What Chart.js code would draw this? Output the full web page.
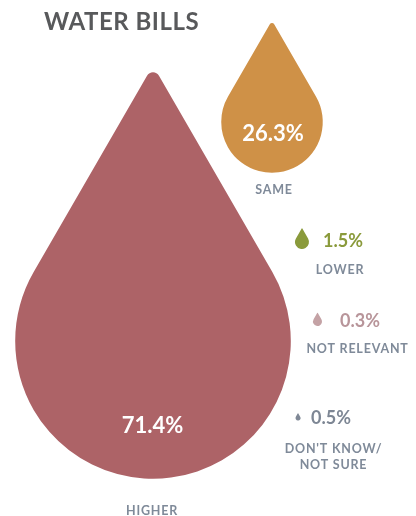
<!DOCTYPE html>
<html>
<head>
<meta charset="utf-8">
<title>Water bills</title>
<script src="https://cdn.jsdelivr.net/npm/chart.js@4.4.0/dist/chart.umd.min.js"></script>
<style>
  html, body { margin: 0; padding: 0; background: #fff; }
  #wrap { position: relative; width: 416px; height: 516px; }
</style>
</head>
<body>
<div id="wrap"><canvas id="bills"></canvas></div>
<script>
// survey answers
const categories = ['HIGHER', 'SAME', 'LOWER', 'NOT RELEVANT', "DON'T KNOW/\nNOT SURE"];
const values = [71.4, 26.3, 1.5, 0.3, 0.5];

// drop colours and number colours
const dropColors = ['#ad6367', '#cf9147', '#8a9a3b', '#c4a2a5', '#7f8896'];
const numberColors = ['#ffffff', '#ffffff', '#8a9a3b', '#b8959a', '#7d8694'];
const labelColor = '#7f8a99';

// centre of each drop's round part
const anchors = [
    { x: 153, y: 341 },
    { x: 272, y: 122 },
    { x: 302, y: 242 },
    { x: 317.5, y: 321.5 },
    { x: 298, y: 418 }
];
// the two big answers are sized by value, the small ones are just icons
const scaled = [true, true, false, false, false];
const iconRadius = [0, 0, 7, 4.5, 2.5];
const pxPerPercent = 1.93;

// where the number and the caption sit for each drop
const textSpots = [
    { num: { x: 152.5, y: 433, align: 'center' }, label: { x: 152, y: 515 } },
    { num: { x: 273, y: 141, align: 'center' }, label: { x: 274, y: 194 } },
    { num: { x: 323, y: 247, align: 'left' }, label: { x: 340, y: 274 } },
    { num: { x: 340, y: 327, align: 'left' }, label: { x: 357.5, y: 353 } },
    { num: { x: 311, y: 424, align: 'left' }, label: { x: 333.5, y: 453 } }
];

function radiusFor(i) {
    return scaled[i] ? values[i] * pxPerPercent : iconRadius[i];
}

function drawDrop(ctx, x, y, r, color) {
    // round bottom plus two tangents meeting 2r above the centre
    const tipY = y - 2 * r;
    const tx = r * Math.cos(Math.PI / 6);
    const ty = y - r * Math.sin(Math.PI / 6);
    ctx.save();
    ctx.fillStyle = color;
    ctx.beginPath();
    ctx.arc(x, y, r, -Math.PI / 6, Math.PI * 7 / 6, false);
    ctx.arcTo(x, tipY, x + tx, ty, Math.max(0.4, r * 0.05));
    ctx.lineTo(x + tx, ty);
    ctx.closePath();
    ctx.fill();
    ctx.restore();
}

const dropPlugin = {
    id: 'drops',
    afterDatasetsDraw(chart) {
        const ctx = chart.ctx;
        const meta = chart.getDatasetMeta(0);
        meta.data.forEach((pt, i) => {
            drawDrop(ctx, pt.x, pt.y, pt.options.radius, dropColors[i]);
        });

        ctx.save();
        // title
        ctx.fillStyle = '#58595b';
        ctx.font = 'bold 24px Lato';
        ctx.letterSpacing = '0.5px';
        ctx.textAlign = 'left';
        ctx.textBaseline = 'alphabetic';
        ctx.fillText('WATER BILLS', 44, 30);

        meta.data.forEach((pt, i) => {
            const spot = textSpots[i];
            ctx.letterSpacing = '0px';
            ctx.font = scaled[i] ? 'bold 22px Lato' : 'bold 18px Lato';
            ctx.fillStyle = numberColors[i];
            ctx.textAlign = spot.num.align;
            ctx.fillText(values[i].toFixed(1) + '%', spot.num.x, spot.num.y);

            ctx.font = 'bold 12.5px Lato';
            ctx.letterSpacing = '0.8px';
            ctx.fillStyle = labelColor;
            ctx.textAlign = 'center';
            categories[i].split('\n').forEach((line, k) => {
                ctx.fillText(line, spot.label.x, spot.label.y + k * 16);
            });
        });
        ctx.restore();
    }
};

new Chart(document.getElementById('bills'), {
    type: 'bubble',
    data: {
        datasets: [{
            data: anchors.map((a, i) => ({ x: a.x, y: a.y, r: radiusFor(i) })),
            backgroundColor: 'rgba(0,0,0,0)',
            borderWidth: 0,
            clip: false
        }]
    },
    options: {
        responsive: true,
        maintainAspectRatio: false,
        animation: false,
        events: [],
        layout: { padding: 0, autoPadding: false },
        plugins: {
            legend: { display: false },
            tooltip: { enabled: false }
        },
        scales: {
            x: { type: 'linear', min: 0, max: 416, display: false },
            y: { type: 'linear', min: 0, max: 516, reverse: true, display: false }
        }
    },
    plugins: [dropPlugin]
});
</script>
</body>
</html>
